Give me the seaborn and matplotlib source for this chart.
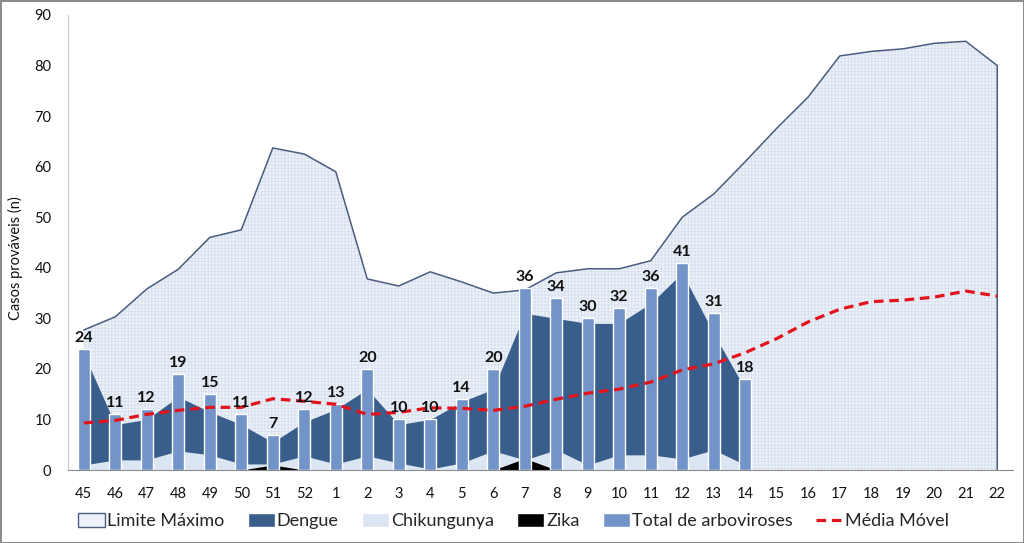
import numpy as np
import pandas as pd
import matplotlib
matplotlib.use("Agg")
import matplotlib.pyplot as plt
from matplotlib.patches import Patch
from matplotlib.lines import Line2D
import seaborn as sns

# %% data
weeks = ["45", "46", "47", "48", "49", "50", "51", "52", "1", "2", "3", "4", "5", "6",
         "7", "8", "9", "10", "11", "12", "13", "14", "15", "16", "17", "18", "19", "20",
         "21", "22"]

limite_maximo = [27.7, 30.3, 35.8, 39.7, 46.0, 47.5, 63.7, 62.5, 59.0, 37.8, 36.4, 39.2,
                 37.2, 35.0, 35.6, 39.0, 39.8, 39.8, 41.4, 50.0, 54.6, 61.0, 67.6, 73.8,
                 81.9, 82.8, 83.3, 84.4, 84.8, 80.0]

# observed weeks only (45 to 14)
dengue = [23, 9, 10, 14.5, 11.5, 9, 5.5, 9.5, 12, 16, 9, 10, 13.5, 16,
          31, 30, 29, 29, 33, 39, 27, 16]
chikungunya = [1, 2, 2, 3.8, 3, 1.2, 1.2, 2.8, 1.2, 2.8, 1.4, 0.2, 1.4, 3.8,
               2, 4, 1, 3, 3, 2.2, 4, 1]
zika = [0, 0, 0, 0, 0, 0, 1, 0, 0, 0, 0, 0, 0, 0,
        2.3, 0, 0, 0, 0, 0, 0, 0]
total = [24, 11, 12, 19, 15, 11, 7, 12, 13, 20, 10, 10, 14, 20,
         36, 34, 30, 32, 36, 41, 31, 18]

media_movel = [9.3, 9.8, 11.0, 11.8, 12.4, 12.4, 14.1, 13.6, 13.0, 11.0, 11.4, 12.3,
               12.2, 11.8, 12.6, 14.0, 15.2, 16.0, 17.4, 19.8, 21.0, 23.2, 26.0, 29.3,
               31.8, 33.3, 33.6, 34.2, 35.4, 34.4]

# %% colours
c_limite_line = "#4a5d7e"
c_limite_fill = "#edf2f9"
c_limite_hatch = "#d6e0ee"
c_dengue = "#3a5e8c"
c_chik = "#dce6f2"
c_zika = "#000000"
c_total = "#7394c8"
c_media = "#e3131b"

sns.set_style("white")
plt.rcParams["font.family"] = ["Lato", "DejaVu Sans"]
plt.rcParams["hatch.linewidth"] = 0.6

fig = plt.figure(figsize=(10.24, 5.43), dpi=100)
fig.patch.set_edgecolor("#8c8c8c")
fig.patch.set_linewidth(2)
ax = fig.add_axes([68 / 1024, 73 / 543, 945 / 1024, 455 / 543])

n_all = len(weeks)
n_obs = len(total)
x_all = np.arange(n_all)
x_obs = np.arange(n_obs)

# %% areas (drawn behind the bars)
ax.fill_between(x_all, 0, limite_maximo, facecolor=c_limite_fill, edgecolor=c_limite_hatch,
                hatch="+++++", linewidth=0, zorder=1)
ax.plot(np.r_[x_all, x_all[-1]], np.r_[limite_maximo, 0], color=c_limite_line, lw=1.1, zorder=2)
ax.fill_between(x_obs, 0, dengue, color=c_dengue, linewidth=0, zorder=3)
ax.fill_between(x_obs, 0, chikungunya, color=c_chik, linewidth=0, zorder=4)
ax.fill_between(x_obs, 0, zika, color=c_zika, linewidth=0, zorder=5)

# %% bars of total cases
df_bar = pd.DataFrame({"semana": weeks[:n_obs], "total": total})
sns.barplot(data=df_bar, x="semana", y="total", order=weeks, color=c_total,
            saturation=1, width=0.38, ax=ax, zorder=6)
for p in ax.patches:
    p.set_zorder(6)
for xi, v in zip(x_obs, total):
    ax.text(xi, v + 0.8, str(v), ha="center", va="bottom", fontsize=11.5,
            fontweight="bold", color="#111111", zorder=8)

# %% moving average
sns.lineplot(x=x_all, y=media_movel, color=c_media, lw=2.3, ax=ax, zorder=7)
ax.lines[-1].set_dashes((3, 1.8))

# %% axes
ax.set_xlim(-0.5, n_all - 0.5)
ax.set_ylim(0, 90)
ax.set_yticks(range(0, 91, 10))
ax.set_xticks(x_all)
ax.set_xticklabels(weeks)
ax.tick_params(axis="both", length=0, labelsize=10.5, colors="#111111")
ax.tick_params(axis="x", pad=12)
ax.tick_params(axis="y", pad=12)
ax.set_xlabel("")
ax.set_ylabel("")
for s in ["top", "right"]:
    ax.spines[s].set_visible(False)
ax.spines["left"].set_color("#c8c8c8")
ax.spines["bottom"].set_color("#8c8c8c")
ax.spines["bottom"].set_zorder(9)
fig.text(15 / 1024, 0.525, "Casos prováveis (n)", rotation=90, ha="center", va="center",
         fontsize=10.5, color="#111111")

# %% legend
handles = [
    Patch(facecolor=c_limite_fill, edgecolor=c_limite_line, lw=1),
    Patch(facecolor=c_dengue),
    Patch(facecolor=c_chik),
    Patch(facecolor=c_zika),
    Patch(facecolor=c_total),
    Line2D([0], [0], color=c_media, lw=2.3, dashes=(3, 1.8)),
]
labels = ["Limite Máximo", "Dengue", "Chikungunya", "Zika", "Total de arboviroses", "Média Móvel"]
fig.legend(handles, labels, loc="center", bbox_to_anchor=(0.5015, 22 / 543), ncol=6,
           frameon=False, fontsize=13, handlelength=1.5, handleheight=0.8,
           handletextpad=0.1, columnspacing=1.3)

fig.savefig("out.png", dpi=100)
